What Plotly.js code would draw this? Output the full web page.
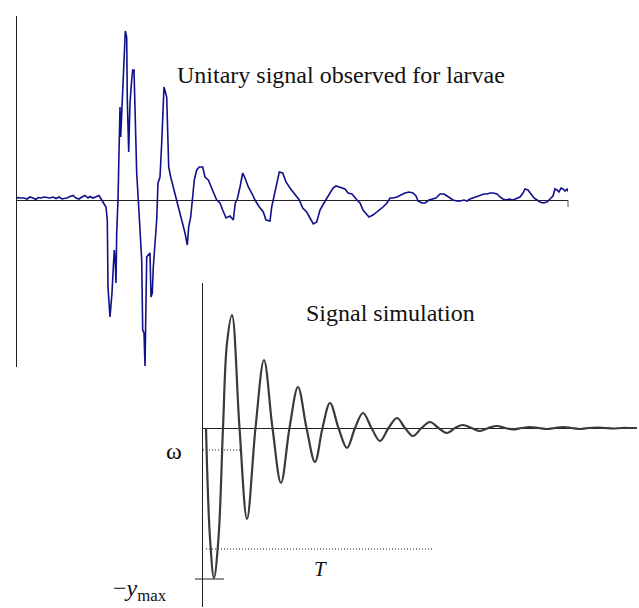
<!DOCTYPE html>
<html>
<head>
<meta charset="utf-8">
<script src="https://cdn.plot.ly/plotly-3.0.1.min.js"></script>
<style>html,body{margin:0;padding:0;background:#fff;}#chart{width:639px;height:608px;}</style>
</head>
<body>
<div id="chart"></div>
<script>
// ---- Observed unitary signal (time units, amplitude units) ----
const obsTime = [-2,1,4,7,10,13,16,19,21,24,27,30,33,36,39,42,45,47,50,53,56,59,62,65,68,71,73,76,79,82,
  84.7,89,90.3,91,93,95,96.3,97.3,98.3,99,99.7,101,102,103,103.7,105,106.3,108.3,109.7,110.3,111.7,113,114.7,115.7,
  117,117.7,119,119.7,121.3,123,124.7,125.7,127,128,
  128.7,129.7,132,133,134,135.3,136.3,138,139.7,141,
  143,144.7,145.7,147,149.7,150.7,151.7,153.7,156.3,159,
  161.3,164.7,168,170.3,171.7,173.7,175.7,177.3,179.7,182.3,
  185.7,188,191.3,193.7,196.3,199.7,203,205.7,209,213,
  216.3,218.3,220.3,223,225.7,228,231.3,234.7,238,242.3,
  246.3,249,253,254.7,257,259.7,262.3,265.7,269,273,
  278,282.3,285.7,289.7,293,296.3,299.7,303,307,310,
  313,316,319,323,328,331,335,340,343,346,
  349,352,356,360,363,366,370,373,376,380,
  384,388,392,396,399,401,405,408,412,415,
  419,423,427,430,433,436,440,443,447,450,
  453,456,460,463,467,470,473,476,480,483,
  486,489,492,496,499,503,506,508,511,514,
  517,520,523,526,530,533,536,538,540,542,
  544,546,548,550,552];
const obsAmp  = [1,2.5,2,2,1,3,2,0.5,2.5,2,3,2.5,2,3,1.5,3,1,1.5,2,3.5,4.5,2,1,3,4.5,2,3.5,2,3.5,4.5,
  0,-7,-20,-87,-117,-93,-67,-50,-63,-83,-33,0,47,93,63,93,133,169,163,100,48,97,120,130,
  130,103,60,27,0,-33,-60,-130,-133,-166,
  -100,-57,-54,-53,-97,-93,-67,-47,-20,17,
  23,57,90,113,103,70,33,23,13,0,
  -7,-20,-33,-45,-27,-17,0,20,30,33,
  33,23,20,15,8,0,-3,-10,-18,-16,
  -20,-3,1,13,27,22,13,7,0,-7,
  -12,-20,-21,-7,3,17,28,27,18,12,
  5,0,-8,-12,-18,-24,-22,-10,-3,2,
  7,12,14,13,11,7,6,0,-3,-10,
  -14,-17,-15,-12,-9,-7,-3,2,2,3,
  5,7,8,7,4,-1,-3,-3,0,1,
  2,6,6,4,2,0,-1,-1,0,-1,
  1,2,4,5,6,6,7,7,6,3,
  1,0,1,0,1,3,7,11,10,6,
  2,0,-2,-3,-2,1,4,11,10,8,
  12,11,9,11,7];

// ---- Simulated signal (time units, amplitude units) ----
const simTime = [3,7,11,15.5,20,24,29,36.5,44,52.5,61,69.5,78,86.5,95,103.5,112,119.5,127,135.5,144,152,160,168.5,177,185.5,194,202,210,218.5,227,235.5,244,252,260,268.5,277,285.5,294,302,310,318.5,327,335.5,344,352,360,368.5,377,385.5,394,402,410,418.5,427,434];
const simAmp  = [0,-110,-150,-110,0,85,113,0,-91,0,68,0,-55,0,41,0,-34,0,25,0,-20,0,15,0,-13,0,10,0,-8,0,6,0,-5,0,3,0,-3,0,2,0,-1.5,0,1,0,-1,0,1,0,-1,0,0.5,0,-0.5,0,0,0];

// ---- Reference levels on the simulated signal ----
const omegaLevel = [-22, -22];
const omegaSpan  = [0, 37];
const tLevel     = [-121, -121];
const tSpan      = [3, 229];

const W = 639, H = 608;
const px = v => v / W;
const py = v => 1 - v / H;

const traces = [
  {x: obsTime, y: obsAmp, xaxis: 'x', yaxis: 'y', mode: 'lines',
   line: {color: '#10108a', width: 1.6}, hoverinfo: 'skip'},
  {x: omegaSpan, y: omegaLevel, xaxis: 'x2', yaxis: 'y2', mode: 'lines',
   line: {color: '#222', width: 1, dash: '1px,2px'}, hoverinfo: 'skip'},
  {x: tSpan, y: tLevel, xaxis: 'x2', yaxis: 'y2', mode: 'lines',
   line: {color: '#222', width: 1, dash: '1px,2px'}, hoverinfo: 'skip'},
  {x: simTime, y: simAmp, xaxis: 'x2', yaxis: 'y2', mode: 'lines',
   line: {color: '#3a3a3a', width: 2.2, shape: 'spline', smoothing: 1}, hoverinfo: 'skip'}
];

const hidden = {showgrid: false, showticklabels: false, ticks: '', zeroline: false, showline: false, fixedrange: true};

const layout = {
  width: W, height: H,
  margin: {l: 0, r: 0, t: 0, b: 0},
  paper_bgcolor: '#fff', plot_bgcolor: 'rgba(0,0,0,0)',
  showlegend: false,
  xaxis: Object.assign({}, hidden, {domain: [px(17), px(568)], range: [0, 551], anchor: 'y'}),
  yaxis: Object.assign({}, hidden, {domain: [py(367), py(16)], range: [-167, 184], anchor: 'x',
          showline: true, linecolor: '#222', linewidth: 1,
          zeroline: true, zerolinecolor: '#222', zerolinewidth: 1}),
  xaxis2: Object.assign({}, hidden, {domain: [px(203), px(637)], range: [0, 434], anchor: 'y2'}),
  yaxis2: Object.assign({}, hidden, {domain: [py(607), py(283)], range: [-179, 145], anchor: 'x2',
          showline: true, linecolor: '#222', linewidth: 1,
          zeroline: true, zerolinecolor: '#222', zerolinewidth: 1}),
  shapes: [
    {type: 'line', xref: 'paper', yref: 'paper', x0: px(568), x1: px(568), y0: py(200), y1: py(207),
     line: {color: '#555', width: 1}},
    {type: 'line', xref: 'paper', yref: 'paper', x0: px(195), x1: px(224), y0: py(579), y1: py(579),
     line: {color: '#222', width: 1}}
  ],
  annotations: [
    {text: 'Unitary signal observed for larvae', xref: 'paper', yref: 'paper',
     x: px(175), y: py(75), xanchor: 'left', yanchor: 'middle', showarrow: false,
     font: {family: 'Liberation Serif, serif', size: 24, color: '#111'}},
    {text: 'Signal simulation', xref: 'paper', yref: 'paper',
     x: px(304), y: py(313), xanchor: 'left', yanchor: 'middle', showarrow: false,
     font: {family: 'Liberation Serif, serif', size: 24, color: '#111'}},
    {text: 'ω', xref: 'paper', yref: 'paper',
     x: px(174), y: py(451), xanchor: 'center', yanchor: 'middle', showarrow: false,
     font: {family: 'Liberation Serif, serif', size: 24, color: '#111'}},
    {text: '<i>T</i>', xref: 'paper', yref: 'paper',
     x: px(320), y: py(569), xanchor: 'center', yanchor: 'middle', showarrow: false,
     font: {family: 'Liberation Serif, serif', size: 21, color: '#111'}},
    {text: '−<i>y</i><sub>max</sub>', xref: 'paper', yref: 'paper',
     x: px(111), y: py(590), xanchor: 'left', yanchor: 'middle', showarrow: false,
     font: {family: 'Liberation Serif, serif', size: 24, color: '#111'}}
  ]
};

Plotly.newPlot('chart', traces, layout, {displayModeBar: false, staticPlot: true});
</script>
</body>
</html>
